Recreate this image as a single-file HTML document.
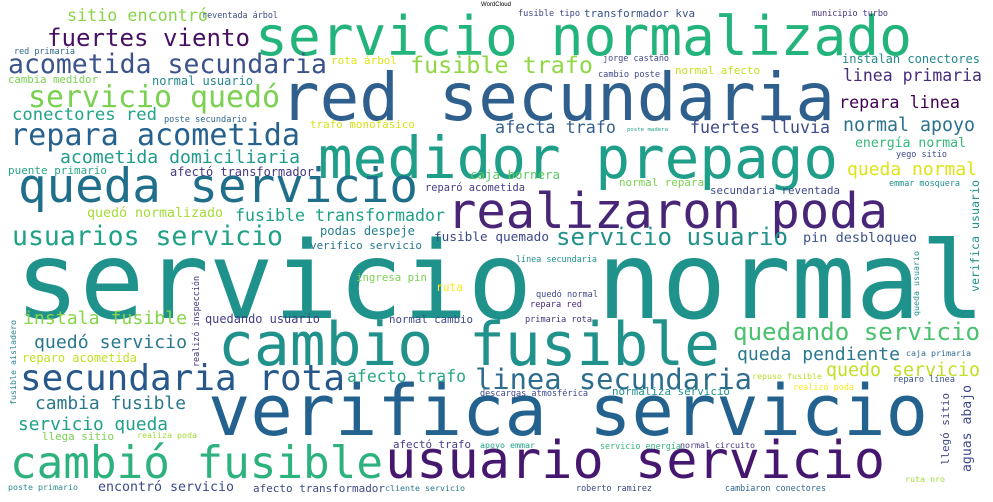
<!DOCTYPE html>
<html><head><meta charset="utf-8"><style>
html,body{margin:0;padding:0;background:#fff;}
svg{display:block;}
text{font-family:"DejaVu Sans Mono","Liberation Mono",monospace;}
</style></head><body>
<svg id="cloud" width="993" height="502" viewBox="0 0 993 502" xmlns="http://www.w3.org/2000/svg">
<rect width="993" height="502" fill="#fff"/>
</svg>
<script>
// [text, x1, x2, baseline, color]
const words = [
["servicio normal",15,985,318,"#20928c"],
["servicio normalizado",255,912,55,"#22b47a"],
["red secundaria",280,835,120,"#2f5f8c"],
["medidor prepago",318,838,178,"#1f9e89"],
["queda servicio",18,418,202,"#1f6f8b"],
["realizaron poda",447,888,228,"#482576"],
["cambio fusible",218,720,365,"#21918c"],
["verifica servicio",208,928,435,"#23628e"],
["usuario servicio",385,885,478,"#46176f"],
["cambió fusible",10,383,478,"#2db27d"],
["secundaria rota",20,345,390,"#26588b"],
["linea secundaria",475,752,389,"#2e6c8e"],
["quedando servicio",733,980,340,"#4ac16d"],
["queda pendiente",737,900,360,"#2a788e"],
["quedo servicio",826,980,376,"#c2df23"],
["usuarios servicio",12,283,245,"#1fa187"],
["servicio usuario",556,788,245,"#21918c"],
["repara acometida",10,300,145,"#27628e"],
["acometida secundaria",8,327,73,"#3b528b"],
["servicio quedó",28,280,107,"#7ad151"],
["fuertes viento",47,250,46,"#471063"],
["fusible trafo",410,593,73,"#8fd744"],
["sitio encontró",67,208,21,"#86d549"],
["conectores red",12,157,120,"#20a486"],
["acometida domiciliaria",60,300,163,"#1e9b8a"],
["afectó transformador",170,314,176,"#453781"],
["puente primario",8,107,174,"#26a784"],
["fusible transformador",235,445,221,"#1fa088"],
["quedó normalizado",87,223,217,"#a5db36"],
["podas despeje",320,415,235,"#27808e"],
["verifico servicio",310,422,249,"#2a768e"],
["fusible quemado",434,549,241,"#3e4989"],
["pin desbloqueo",803,917,242,"#3b528b"],
["afecta trafo",495,616,133,"#355f8d"],
["fuertes lluvia",690,830,133,"#3e4a89"],
["poste madera",627,668,131,"#1fa187"],
["normal apoyo",843,975,131,"#2c728e"],
["repara linea",839,960,108,"#440154"],
["linea primaria",843,982,81,"#472c7a"],
["instalan conectores",842,980,63,"#23888e"],
["energía normal",855,966,147,"#35b779"],
["yego sitio",896,947,157,"#3e4a89"],
["queda normal",847,977,175,"#dde318"],
["emmar mosquera",889,960,186,"#21918c"],
["secundaria reventada",710,840,194,"#3e4989"],
["normal repara",619,704,186,"#7ad151"],
["caja bornera",470,560,179,"#5ec962"],
["reparó acometida",425,525,191,"#433e85"],
["trafo monofásico",310,415,128,"#d8e219"],
["poste secundario",164,247,122,"#31688e"],
["normal usuario",152,253,85,"#23898e"],
["red primaria",14,75,54,"#31688e"],
["cambia medidor",8,98,83,"#7ad151"],
["reventada árbol",202,278,18,"#3e4a89"],
["rota árbol",331,397,64,"#dde318"],
["fusible tipo",518,580,16,"#3e4a89"],
["transformador kva",584,695,17,"#3b528b"],
["municipio turbo",812,888,16,"#46337e"],
["jorge castaño",603,669,61,"#3e4989"],
["cambio poste",598,660,77,"#3e4989"],
["normal afecto",675,760,74,"#c8e020"],
["ingresa pin",356,427,281,"#7ad151"],
["ruta",436,463,291,"#fde725"],
["instala fusible",23,187,324,"#86d549"],
["quedando usuario",205,320,323,"#433e85"],
["normal cambio",389,473,323,"#3e4a89"],
["quedó servicio",34,187,348,"#2a788e"],
["reparo acometida",22,137,362,"#c2df23"],
["afecto trafo",347,466,382,"#26a784"],
["cambia fusible",35,186,409,"#2a788e"],
["servicio queda",18,168,430,"#1fa088"],
["llega sitio",42,114,440,"#7ad151"],
["realiza poda",137,197,438,"#a0da39"],
["afectó trafo",393,471,448,"#433e85"],
["apoyo emmar",480,535,448,"#1fa187"],
["poste primario",8,78,490,"#2a8a8e"],
["encontró servicio",98,234,491,"#3e4989"],
["afecto transformador",253,385,492,"#3e4a89"],
["cliente servicio",385,465,491,"#2a788e"],
["descargas atmosférica",480,588,396,"#3e4989"],
["línea secundaria",516,597,262,"#21918c"],
["quedó normal",536,598,297,"#3e4989"],
["repara red",530,582,307,"#482878"],
["primaria rota",525,592,322,"#46337e"],
["caja primaria",906,971,356,"#31688e"],
["repuso fusible",752,822,379,"#b5de2b"],
["reparo línea",893,955,382,"#3b528b"],
["realizó poda",793,854,390,"#fde725"],
["normaliza servicio",612,730,395,"#21918c"],
["servicio energía",600,681,449,"#35b779"],
["normal circuito",680,755,448,"#46337e"],
["roberto ramirez",576,652,491,"#3e4989"],
["cambiaron conectores",725,826,491,"#31688e"],
["ruta nro",905,945,482,"#a0da39"]
];
// vertical words: [text, baselineX, yTop, yBottom, color]
const vwords = [
["realizó inspección",199,276,367,"#46337e"],
["fusible aisladero",16,320,405,"#26828e"],
["queda usuario",919,251,316,"#21918c"],
["verifica usuario",979,180,292,"#21918c"],
["llegó sitio",949,393,465,"#3e4a89"],
["aguas abajo",971,385,472,"#3e4a89"]
];
const NS = "http://www.w3.org/2000/svg";
const svg = document.getElementById("cloud");
function slug(s){return s.normalize("NFD").replace(/[\u0300-\u036f]/g,"").replace(/\s+/g,"-").toLowerCase();}
words.forEach(w => {
  const t = document.createElementNS(NS,"text");
  const len = w[2]-w[1];
  const fs = len/(w[0].length*0.602);
  t.setAttribute("x", w[1]);
  t.setAttribute("y", w[3]);
  t.setAttribute("font-size", fs.toFixed(2));
  t.setAttribute("fill", w[4]);
  t.setAttribute("textLength", len);
  t.setAttribute("lengthAdjust", "spacingAndGlyphs");
  
  
  t.textContent = w[0];
  svg.appendChild(t);
});
vwords.forEach(w => {
  const t = document.createElementNS(NS,"text");
  const len = w[3]-w[2];
  const fs = len/(w[0].length*0.602);
  t.setAttribute("transform", "translate(" + w[1] + "," + w[3] + ") rotate(-90)");
  t.setAttribute("font-size", fs.toFixed(2));
  t.setAttribute("fill", w[4]);
  t.setAttribute("textLength", len);
  t.setAttribute("lengthAdjust", "spacingAndGlyphs");
  
  
  t.textContent = w[0];
  svg.appendChild(t);
});
const title = document.createElementNS(NS,"text");
title.setAttribute("x", 496);
title.setAttribute("y", 6);
title.setAttribute("text-anchor", "middle");
title.setAttribute("font-size", "6");
title.setAttribute("fill", "#000");
title.setAttribute("style", "font-family:'Liberation Sans',sans-serif");


title.textContent = "WordCloud";
svg.appendChild(title);
</script>
</body></html>
